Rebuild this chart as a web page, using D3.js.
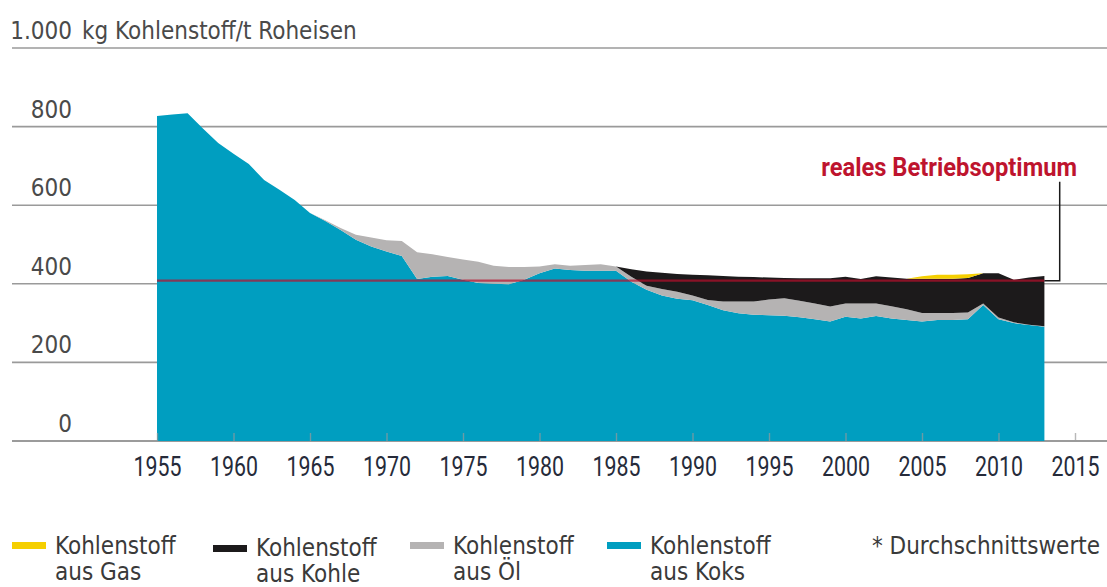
<!DOCTYPE html>
<html lang="de">
<head>
<meta charset="UTF-8" />
<title>Kohlenstoff je Tonne Roheisen</title>
<script src="https://cdn.jsdelivr.net/npm/d3@7"></script>
<style>
  body { margin: 0; background: #fff; }
  svg { display: block; }
  text { font-family: "Liberation Sans Narrow", "DejaVu Sans Condensed", "Roboto", sans-serif; }
</style>
</head>
<body>
<script>
// kg Kohlenstoff je t Roheisen
const years = d3.range(1955, 2014);
const koks = [827,831,834,795,758,731,705,664,639,613,
              580,560,537,512,495,482,471,412,418,420,
              410,402,400,399,410,427,439,435,433,433,
              433,405,385,370,362,358,346,333,325,321,
              320,319,315,310,304,316,312,318,312,308,
              304,308,308,310,346,310,300,295,291];
const oel = [0,0,0,0,0,0,0,0,0,0,
             0,2,5,13,23,29,38,68,57,48,
             52,54,46,44,33,17,11,11,15,17,
             11,13,10,17,18,12,13,22,30,34,
             40,44,42,40,38,34,38,32,31,27,
             22,18,18,17,4,4,2,1,1];
const kohle = [0,0,0,0,0,0,0,0,0,0,
               0,0,0,0,0,0,0,0,0,0,
               0,0,0,0,0,0,0,0,0,0,
               0,19,36,41,45,53,63,65,63,62,
               56,52,57,64,72,68,62,69,73,78,
               87,87,87,88,77,113,108,120,128];
const gas = [0,0,0,0,0,0,0,0,0,0,
             0,0,0,0,0,0,0,0,0,0,
             0,0,0,0,0,0,0,0,0,0,
             0,0,0,0,0,0,0,0,0,0,
             0,0,0,0,0,0,0,0,0,0,
             6,10,10,9,0,0,0,0,0];
const optimum = 408;
const yTicks = [0, 200, 400, 600, 800, 1000];
const yTickLabels = ["0", "200", "400", "600", "800", "1.000"];
const xTicks = d3.range(1955, 2016, 5);

const legend = [
  { key: "gas",   line1: "Kohlenstoff", line2: "aus Gas",   color: "#f5cf00", x: 12 },
  { key: "kohle", line1: "Kohlenstoff", line2: "aus Kohle", color: "#1c1a1b", x: 213 },
  { key: "oel",   line1: "Kohlenstoff", line2: "aus Öl",    color: "#b5b3b3", x: 410 },
  { key: "koks",  line1: "Kohlenstoff", line2: "aus Koks",  color: "#009ec0", x: 607 }
];
const colors = Object.fromEntries(legend.map(d => [d.key, d.color]));

const W = 1107, H = 587;
const svg = d3.select("body").append("svg").attr("width", W).attr("height", H);

const x = d3.scaleLinear().domain([1955, 2015]).range([157, 1075]);
const y = d3.scaleLinear().domain([0, 1000]).range([441, 48]);

// squeeze a text horizontally to a given width (condensed look)
function squeeze(sel, w) {
  sel.each(function() {
    const len = this.getComputedTextLength();
    if (len > w) d3.select(this).attr("transform", `scale(${w / len},1)`);
  });
}

// gridlines
svg.append("g").selectAll("line").data(yTicks).join("line")
  .attr("x1", 12).attr("x2", W)
  .attr("y1", d => y(d)).attr("y2", d => y(d))
  .attr("stroke", d => d === 0 ? "#7a7a7a" : "#9a9a9a")
  .attr("stroke-width", 1.6);

svg.append("g").selectAll("text").data(yTicks).join("text")
  .attr("x", 72).attr("y", d => y(d) - 9)
  .attr("text-anchor", "end")
  .attr("font-size", 24)
  .attr("fill", "#4a4a4a")
  .text((d, i) => yTickLabels[i]);

svg.append("text")
  .attr("x", 82).attr("y", y(1000) - 9)
  .attr("font-size", 24).attr("fill", "#4a4a4a")
  .text("kg Kohlenstoff/t Roheisen");

// stacked areas
const rows = years.map((yr, i) => ({ year: yr, koks: koks[i], oel: oel[i], kohle: kohle[i], gas: gas[i] }));
const series = d3.stack().keys(["koks", "oel", "kohle", "gas"])(rows);
const area = d3.area()
  .x(d => x(d.data.year))
  .y0(d => y(d[0]))
  .y1(d => y(d[1]));

svg.append("g").selectAll("path").data(series).join("path")
  .attr("d", area)
  .attr("fill", d => colors[d.key]);

// x ticks and labels
const xAxis = d3.axisBottom(x).tickValues(xTicks).tickFormat(d3.format("d"))
  .tickSizeInner(-8).tickSizeOuter(0).tickPadding(16);
const gx = svg.append("g").attr("transform", `translate(0,${y(0)})`).call(xAxis);
gx.select(".domain").remove();
gx.selectAll(".tick line").attr("stroke", "#9a9a9a").attr("stroke-opacity", 0.7).attr("stroke-width", 1.4);
gx.selectAll(".tick text")
  .attr("font-size", 27).attr("font-weight", 400).attr("fill", "#262b3a")
  .style("font-family", "Roboto, 'DejaVu Sans Condensed', sans-serif")
  .call(squeeze, 48);

// Betriebsoptimum
svg.append("line")
  .attr("x1", x(1955)).attr("x2", x(2013))
  .attr("y1", y(optimum)).attr("y2", y(optimum))
  .attr("stroke", "#b8102c").attr("stroke-opacity", 0.7).attr("stroke-width", 2.2);

svg.append("path")
  .attr("d", `M${x(2013)},${y(optimum)}H${x(2014)}V${y(optimum) - 99}`)
  .attr("fill", "none").attr("stroke", "#1a1a1a").attr("stroke-width", 1.5);

svg.append("g").attr("transform", "translate(1077,176)")
  .append("text")
  .attr("text-anchor", "end")
  .attr("font-size", 26).attr("font-weight", 700)
  .style("font-family", "Roboto, 'DejaVu Sans Condensed', sans-serif")
  .attr("fill", "#be142e")
  .text("reales Betriebsoptimum")
  .call(squeeze, 256);

// legend
const lg = svg.append("g").selectAll("g").data(legend).join("g")
  .attr("transform", d => `translate(${d.x},0)`);
lg.append("rect").attr("x", 0).attr("y", d => d.key === "kohle" ? 545 : 542)
  .attr("width", 34).attr("height", 7).attr("fill", d => d.color);
lg.append("text").attr("x", 43).attr("y", d => d.key === "kohle" ? 556 : 554)
  .attr("font-size", 24).attr("fill", "#3a3a3a").text(d => d.line1);
lg.append("text").attr("x", 43).attr("y", d => d.key === "kohle" ? 582 : 580)
  .attr("font-size", 24).attr("fill", "#3a3a3a").text(d => d.line2);

svg.append("text")
  .attr("x", 1100).attr("y", 554).attr("text-anchor", "end")
  .attr("font-size", 24).attr("fill", "#3a3a3a")
  .text("* Durchschnittswerte");
</script>
</body>
</html>
